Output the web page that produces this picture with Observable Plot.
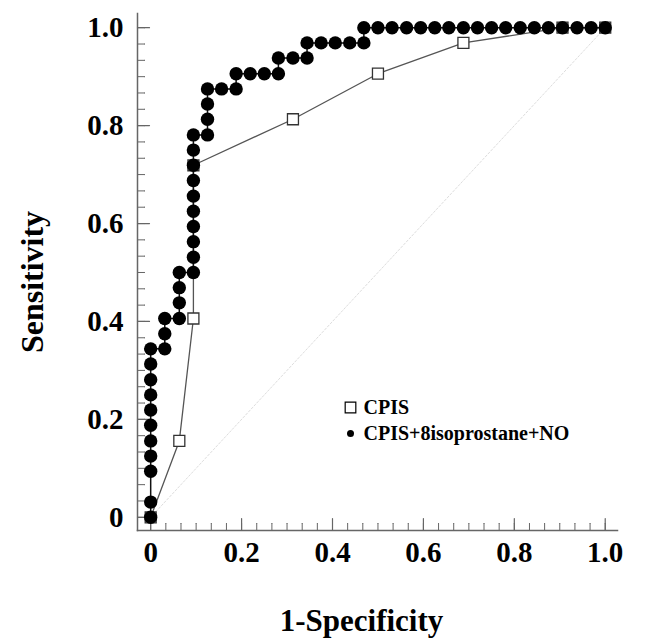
<!DOCTYPE html>
<html><head><meta charset="utf-8">
<script src="https://cdn.jsdelivr.net/npm/d3@7"></script>
<script src="https://cdn.jsdelivr.net/npm/@observablehq/plot@0.6"></script>
<style>body{margin:0;background:#fff}</style>
</head><body><div id="chart"></div>
<script>
// CPIS ROC curve (open squares)
const cpisFPR  = [0, 0.063, 0.094, 0.094, 0.313, 0.5, 0.688, 0.906, 1.0];
const cpisSens = [0, 0.156, 0.406, 0.719, 0.813, 0.906, 0.969, 1.0, 1.0];

// CPIS+8isoprostane+NO ROC curve (filled circles)
const comboFPR = [
  0, 0, 0, 0, 0, 0, 0, 0, 0, 0, 0,
  0.031, 0.031, 0.031,
  0.063, 0.063, 0.063, 0.063,
  0.094, 0.094, 0.094, 0.094, 0.094, 0.094, 0.094, 0.094, 0.094, 0.094,
  0.125, 0.125, 0.125, 0.125,
  0.156, 0.188, 0.188, 0.219, 0.25, 0.281, 0.281, 0.313, 0.344, 0.344,
  0.375, 0.406, 0.438, 0.469, 0.469,
  0.5, 0.531, 0.563, 0.594, 0.625, 0.656, 0.688, 0.719, 0.75, 0.781,
  0.813, 0.844, 0.875, 0.906, 0.938, 0.969, 1.0
];
const comboSens = [
  0, 0.031, 0.094, 0.125, 0.156, 0.188, 0.219, 0.25, 0.281, 0.313, 0.344,
  0.344, 0.375, 0.406,
  0.406, 0.438, 0.469, 0.5,
  0.5, 0.531, 0.563, 0.594, 0.625, 0.656, 0.688, 0.719, 0.75, 0.781,
  0.781, 0.813, 0.844, 0.875,
  0.875, 0.875, 0.906, 0.906, 0.906, 0.906, 0.938, 0.938, 0.938, 0.969,
  0.969, 0.969, 0.969, 0.969, 1.0,
  1.0, 1.0, 1.0, 1.0, 1.0, 1.0, 1.0, 1.0, 1.0, 1.0,
  1.0, 1.0, 1.0, 1.0, 1.0, 1.0, 1.0
];

const tickValues = [0, 0.2, 0.4, 0.6, 0.8, 1.0];
const tickLabels = ["0", "0.2", "0.4", "0.6", "0.8", "1.0"];
const diagonal = [0, 1];
const legendNames = ["CPIS", "CPIS+8isoprostane+NO"];
const xTitle = "1-Specificity";
const yTitle = "Sensitivity";

const cpis = cpisFPR.map((x, i) => ({x, y: cpisSens[i]}));
const combo = comboFPR.map((x, i) => ({x, y: comboSens[i]}));
const minorTicks = d3.range(0, 31).map(i => i / 30);
const fmt = d => tickLabels[tickValues.indexOf(d)];
const serif = "'Liberation Serif', 'Times New Roman', serif";
const axisColor = "#666";

const chart = Plot.plot({
  width: 655,
  height: 643,
  marginLeft: 137,
  marginRight: 38,
  marginTop: 13,
  marginBottom: 113,
  x: {domain: [-0.029, 1.027]},
  y: {domain: [-0.027, 1.029]},
  style: {fontFamily: serif, fontWeight: "bold", fontSize: "29px", background: "#fff", color: "#000"},
  marks: [
    // faint diagonal reference
    Plot.line(diagonal, {x: d => d, y: d => d, stroke: "#ddd", strokeWidth: 1, strokeDasharray: "2,2"}),
    // axis lines
    Plot.frame({anchor: "bottom", stroke: axisColor, strokeWidth: 1.5}),
    Plot.frame({anchor: "left", stroke: axisColor, strokeWidth: 1.5}),
    // inward ticks
    Plot.vector(minorTicks, {x: d => d, frameAnchor: "bottom", rotate: 0, length: 7, anchor: "start", r: 0, stroke: axisColor, strokeWidth: 1}),
    Plot.vector(tickValues, {x: d => d, frameAnchor: "bottom", rotate: 0, length: 12, anchor: "start", r: 0, stroke: axisColor, strokeWidth: 1.2}),
    Plot.vector(minorTicks, {y: d => d, frameAnchor: "left", rotate: 90, length: 7, anchor: "start", r: 0, stroke: axisColor, strokeWidth: 1}),
    Plot.vector(tickValues, {y: d => d, frameAnchor: "left", rotate: 90, length: 12, anchor: "start", r: 0, stroke: axisColor, strokeWidth: 1.2}),
    // tick labels
    Plot.axisX({ticks: tickValues, tickFormat: fmt, tickSize: 0, tickPadding: 11, label: null, fontSize: 29, fontWeight: "bold"}),
    Plot.axisY({ticks: tickValues, tickFormat: fmt, tickSize: 0, tickPadding: 14, label: null, fontSize: 29, fontWeight: "bold"}),
    // axis titles
    Plot.text([xTitle], {frameAnchor: "bottom", dx: -16, dy: 100, fontSize: 31, fontWeight: "bold"}),
    Plot.text([yTitle], {frameAnchor: "left", dx: -105, dy: 10, rotate: -90, textAnchor: "middle", lineAnchor: "middle", fontSize: 32, fontWeight: "bold"}),
    // CPIS curve
    Plot.line(cpis, {x: "x", y: "y", stroke: "#555", strokeWidth: 1.3}),
    Plot.dot(cpis, {x: "x", y: "y", symbol: "square", r: 6.2, fill: "#fff", stroke: "#333", strokeWidth: 1.3}),
    // combined curve
    Plot.line(combo, {x: "x", y: "y", stroke: "#111", strokeWidth: 1.5}),
    Plot.dot(combo, {x: "x", y: "y", r: 6.7, fill: "#000", stroke: "none"}),
    // legend
    Plot.dot([legendNames[0]], {frameAnchor: "top-left", dx: 213, dy: 394, symbol: "square", r: 6, fill: "#fff", stroke: "#000", strokeWidth: 1.2}),
    Plot.dot([legendNames[1]], {frameAnchor: "top-left", dx: 213, dy: 420, r: 3.5, fill: "#000"}),
    Plot.text([legendNames[0]], {frameAnchor: "top-left", dx: 226, dy: 394, textAnchor: "start", lineAnchor: "middle", fontSize: 20, fontWeight: "bold"}),
    Plot.text([legendNames[1]], {frameAnchor: "top-left", dx: 226, dy: 420, textAnchor: "start", lineAnchor: "middle", fontSize: 20, fontWeight: "bold"})
  ]
});
document.getElementById("chart").appendChild(chart);
</script>
</body></html>
